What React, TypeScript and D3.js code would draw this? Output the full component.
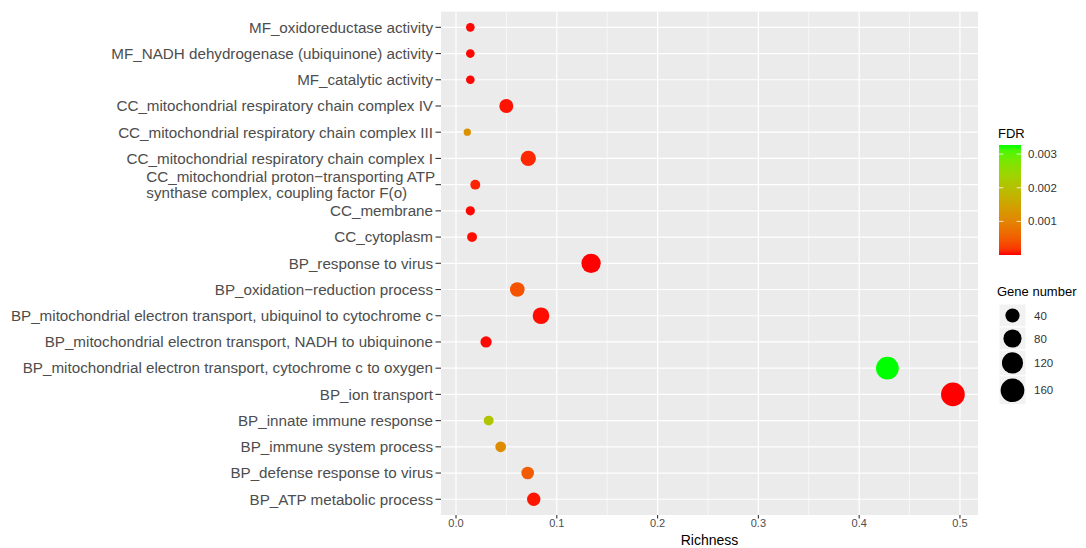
import React from "react";
import * as d3 from "d3";

const categories: string[] = [
  "MF_oxidoreductase activity",
  "MF_NADH dehydrogenase (ubiquinone) activity",
  "MF_catalytic activity",
  "CC_mitochondrial respiratory chain complex IV",
  "CC_mitochondrial respiratory chain complex III",
  "CC_mitochondrial respiratory chain complex I",
  "CC_mitochondrial proton\u2212transporting ATP\nsynthase complex, coupling factor F(o)",
  "CC_membrane",
  "CC_cytoplasm",
  "BP_response to virus",
  "BP_oxidation\u2212reduction process",
  "BP_mitochondrial electron transport, ubiquinol to cytochrome c",
  "BP_mitochondrial electron transport, NADH to ubiquinone",
  "BP_mitochondrial electron transport, cytochrome c to oxygen",
  "BP_ion transport",
  "BP_innate immune response",
  "BP_immune system process",
  "BP_defense response to virus",
  "BP_ATP metabolic process",
];

const richness: number[] = [
  0.0142, 0.0142, 0.0142, 0.0499, 0.0112, 0.0717, 0.0191, 0.0142, 0.0159,
  0.134, 0.0608, 0.0843, 0.0298, 0.428, 0.493, 0.0324, 0.0443, 0.0711, 0.0771,
];

const geneNumber: number[] = [
  7, 7, 7, 38, 3, 50, 12, 9, 12, 95, 44, 64, 19, 144, 160, 12, 16, 28, 33,
];

const fdr: number[] = [
  0.00001, 0.00001, 0.00001, 0.00003, 0.0012, 0.0001, 0.00008, 0.00001, 0.00002,
  0.000001, 0.0004, 0.00002, 0.00001, 0.00327, 0.000001, 0.0021, 0.0011, 0.0005, 0.00004,
];

const xTicks: number[] = [0, 0.1, 0.2, 0.3, 0.4, 0.5];
const xMinorTicks: number[] = [0.05, 0.15, 0.25, 0.35, 0.45];
const fdrTicks: number[] = [0.001, 0.002, 0.003];
const sizeLegendValues: number[] = [40, 80, 120, 160];

const FONT = "'Liberation Sans', Arial, Helvetica, sans-serif";

function measure(text: string, size: number): number {
  const c = document.createElement("canvas");
  const ctx = c.getContext("2d");
  if (!ctx) return text.length * size * 0.5;
  ctx.font = `${size}px ${FONT}`;
  return ctx.measureText(text).width;
}

export default function App() {
  const W = 1086;
  const H = 548;
  const panel = { left: 441, right: 978, top: 11.6, bottom: 515 };

  const x = d3.scaleLinear().domain([-0.0149, 0.5179]).range([panel.left, panel.right]);
  const y = d3
    .scalePoint<string>()
    .domain(categories)
    .range([panel.top, panel.bottom])
    .padding(0.6);

  const fdrExtent = d3.extent(fdr) as [number, number];
  const color = d3
    .scaleLinear<string>()
    .domain(fdrExtent)
    .range(["#FF0000", "#00FF00"])
    .interpolate(d3.interpolateLab);

  const sizeExtent = d3.extent(geneNumber) as [number, number];
  const r = d3.scaleSqrt().domain(sizeExtent).range([3.65, 11.85]);

  const labelEnd = 433;
  const labelSize = 15.2;

  // colour bar
  const cb = { x: 999, w: 22, top: 145, bottom: 255 };
  const cbY = d3.scaleLinear().domain(fdrExtent).range([cb.bottom, cb.top]);
  const stops = d3.range(0, 21).map((i) => i / 20);

  // size legend
  const keyX = 999;
  const keyW = 27;
  let acc = 304;
  const keys = sizeLegendValues.map((v) => {
    const rad = r(v);
    const h = Math.max(23, rad * 2 * 1.22);
    const top = acc;
    acc += h;
    return { v, rad, top, h };
  });

  return (
    <svg
      width={W}
      height={H}
      style={{ position: "absolute", left: 0, top: 0, background: "#fff" }}
      fontFamily={FONT}
    >
      <defs>
        <linearGradient id="fdrGrad" x1="0" y1="1" x2="0" y2="0">
          {stops.map((t) => (
            <stop
              key={t}
              offset={`${t * 100}%`}
              stopColor={color(fdrExtent[0] + t * (fdrExtent[1] - fdrExtent[0]))}
            />
          ))}
        </linearGradient>
      </defs>

      {/* panel */}
      <rect
        x={panel.left}
        y={panel.top}
        width={panel.right - panel.left}
        height={panel.bottom - panel.top}
        fill="#EBEBEB"
      />
      {xMinorTicks.map((t) => (
        <line
          key={"mx" + t}
          x1={x(t)}
          x2={x(t)}
          y1={panel.top}
          y2={panel.bottom}
          stroke="#fff"
          strokeWidth={0.6}
        />
      ))}
      {xTicks.map((t) => (
        <line
          key={"gx" + t}
          x1={x(t)}
          x2={x(t)}
          y1={panel.top}
          y2={panel.bottom}
          stroke="#fff"
          strokeWidth={1.2}
        />
      ))}
      {categories.map((c) => (
        <line
          key={"gy" + c}
          x1={panel.left}
          x2={panel.right}
          y1={y(c)}
          y2={y(c)}
          stroke="#fff"
          strokeWidth={1.2}
        />
      ))}

      {/* points */}
      {categories.map((c, i) => (
        <circle
          key={"pt" + c}
          cx={x(richness[i])}
          cy={y(c)}
          r={r(geneNumber[i])}
          fill={color(fdr[i])}
        />
      ))}

      {/* y axis */}
      {categories.map((c) => {
        const yy = y(c) as number;
        const lines = c.split("\n");
        return (
          <g key={"yl" + c}>
            <line x1={labelEnd + 2.5} x2={panel.left} y1={yy} y2={yy} stroke="#333" strokeWidth={1.1} />
            {lines.length === 1 ? (
              <text
                x={labelEnd}
                y={yy}
                dy="0.35em"
                textAnchor="end"
                fontSize={labelSize}
                fill="#4D4D4D"
              >
                {c}
              </text>
            ) : (
              (() => {
                const wmax = Math.max(...lines.map((l) => measure(l, labelSize)));
                const startX = labelEnd + 3 - wmax;
                return lines.map((l, k) => (
                  <text
                    key={k}
                    x={startX}
                    y={yy + (k - (lines.length - 1) / 2) * 16}
                    dy="0.35em"
                    textAnchor="start"
                    fontSize={labelSize}
                    fill="#4D4D4D"
                  >
                    {l}
                  </text>
                ));
              })()
            )}
          </g>
        );
      })}

      {/* x axis */}
      {xTicks.map((t) => (
        <g key={"xt" + t}>
          <line x1={x(t)} x2={x(t)} y1={panel.bottom} y2={panel.bottom + 3.5} stroke="#333" strokeWidth={1.1} />
          <text x={x(t)} y={527} textAnchor="middle" fontSize={11} fill="#4D4D4D">
            {d3.format(".1f")(t)}
          </text>
        </g>
      ))}
      <text x={(panel.left + panel.right) / 2} y={545} textAnchor="middle" fontSize={14} fill="#000">
        Richness
      </text>

      {/* FDR legend */}
      <text x={998} y={138} fontSize={13} fill="#000">
        FDR
      </text>
      <rect x={cb.x} y={cb.top} width={cb.w} height={cb.bottom - cb.top} fill="url(#fdrGrad)" />
      {fdrTicks.map((t) => (
        <g key={"ft" + t}>
          <line x1={cb.x} x2={cb.x + cb.w / 5} y1={cbY(t)} y2={cbY(t)} stroke="#fff" strokeWidth={0.8} />
          <line x1={cb.x + cb.w - cb.w / 5} x2={cb.x + cb.w} y1={cbY(t)} y2={cbY(t)} stroke="#fff" strokeWidth={0.8} />
          <text x={1028} y={cbY(t)} dy="0.35em" fontSize={11.5} fill="#333">
            {d3.format(".3f")(t)}
          </text>
        </g>
      ))}

      {/* Gene number legend */}
      <text x={997} y={296} fontSize={13} fill="#000">
        Gene number
      </text>
      {keys.map((k) => (
        <g key={"sk" + k.v}>
          <rect x={keyX} y={k.top} width={keyW} height={k.h} fill="#F2F2F2" stroke="#fff" strokeWidth={1} />
          <circle cx={keyX + keyW / 2} cy={k.top + k.h / 2} r={k.rad} fill="#000" />
          <text x={1034} y={k.top + k.h / 2} dy="0.35em" fontSize={11.5} fill="#333">
            {k.v}
          </text>
        </g>
      ))}
    </svg>
  );
}
